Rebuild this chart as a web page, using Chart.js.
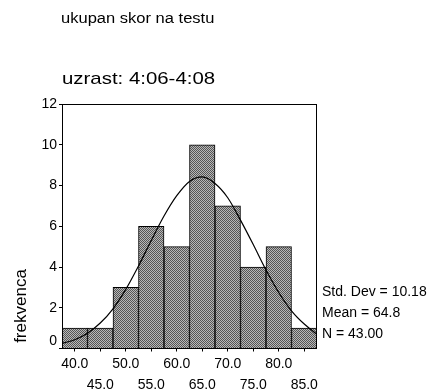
<!DOCTYPE html>
<html>
<head>
<meta charset="utf-8">
<script src="https://cdn.jsdelivr.net/npm/chart.js@4.4.0/dist/chart.umd.min.js"></script>
<style>
  html, body { margin: 0; padding: 0; background: #fff; }
  #wrap { width: 433px; height: 389px; }
</style>
</head>
<body>
<div id="wrap"><canvas id="c" width="433" height="389"></canvas></div>
<script>
// Histogram bins (centres, width 5) and their frequencies
const binCenters = [40, 45, 50, 55, 60, 65, 70, 75, 80, 85];
const counts = [1, 1, 3, 6, 5, 10, 7, 4, 5, 1];

// Fitted normal curve, sampled along the score axis
const curveX = [37.5, 40, 42.5, 45, 47.5, 50, 52.5, 55, 57.5, 60, 62.5, 65, 67.5, 70, 72.5, 75, 77.5, 80, 82.5, 85, 87.5];
const curveY = [0.25, 0.43, 0.75, 1.25, 1.95, 2.9, 4.05, 5.3, 6.5, 7.5, 8.2, 8.42, 8.1, 7.4, 6.3, 5.1, 3.85, 2.75, 1.85, 1.2, 0.7];

// Axis ticks
const xTickValues = [40, 45, 50, 55, 60, 65, 70, 75, 80, 85];
const xTickLabels = ['40.0', '45.0', '50.0', '55.0', '60.0', '65.0', '70.0', '75.0', '80.0', '85.0'];
const yTickValues = [0, 2, 4, 6, 8, 10, 12];

// Texts
const titleText = 'ukupan skor na testu';
const subtitleText = 'uzrast: 4:06-4:08';
const yAxisLabel = 'frekvenca';
const statLines = ['Std. Dev = 10.18', 'Mean = 64.8', 'N = 43.00'];

const FONT = "'Liberation Sans', Arial, sans-serif";

// Fine stipple fill for the bars
function stipple() {
  const t = document.createElement('canvas');
  t.width = 2; t.height = 2;
  const g = t.getContext('2d');
  g.fillStyle = '#b8b8b8'; g.fillRect(0, 0, 2, 2);
  g.fillStyle = '#555555'; g.fillRect(0, 0, 1, 1); g.fillRect(1, 1, 1, 1);
  return g.createPattern(t, 'repeat');
}

const decor = {
  id: 'decor',
  beforeDraw(chart) {
    const ctx = chart.ctx;
    ctx.save();
    ctx.fillStyle = '#fff';
    ctx.fillRect(0, 0, chart.width, chart.height);
    ctx.restore();
  },
  afterDatasetsDraw(chart) {
    const { ctx, chartArea: a } = chart;
    ctx.save();
    ctx.strokeStyle = '#000';
    ctx.lineWidth = 1;
    ctx.strokeRect(Math.round(a.left) + 0.5, Math.round(a.top) + 0.5,
                   Math.round(a.right - a.left) - 1, Math.round(a.bottom - a.top) - 1);
    ctx.restore();
  },
  afterDraw(chart) {
    const ctx = chart.ctx;
    const yScale = chart.scales.y;
    ctx.save();
    ctx.fillStyle = '#000';
    ctx.textBaseline = 'alphabetic';
    ctx.textAlign = 'left';

    // title lines, slightly widened
    ctx.save();
    ctx.translate(61, 23);
    ctx.scale(1.18, 1);
    ctx.font = '14px ' + FONT;
    ctx.fillText(titleText, 0, 0);
    ctx.restore();

    ctx.save();
    ctx.translate(62, 84);
    ctx.scale(1.2, 1);
    ctx.font = '17px ' + FONT;
    ctx.fillText(subtitleText, 0, 0);
    ctx.restore();

    // lowest y tick label sits a little above the axis line
    ctx.save();
    ctx.font = '14px ' + FONT;
    ctx.textAlign = 'right';
    ctx.textBaseline = 'middle';
    ctx.fillText(String(yTickValues[0]), yScale.right - 5, yScale.getPixelForValue(yTickValues[0]) - 7);
    ctx.restore();

    // y axis title
    ctx.save();
    ctx.translate(26, 306);
    ctx.rotate(-Math.PI / 2);
    ctx.textAlign = 'center';
    ctx.font = '17px ' + FONT;
    ctx.fillText(yAxisLabel, 0, 0);
    ctx.restore();

    // summary statistics
    ctx.font = '14px ' + FONT;
    const x0 = chart.chartArea.right + 5;
    statLines.forEach((s, i) => ctx.fillText(s, x0, 296 + i * 20.8));
    ctx.restore();
  }
};

new Chart(document.getElementById('c'), {
  type: 'bar',
  data: {
    datasets: [
      {
        type: 'line',
        data: curveX.map((x, i) => ({ x, y: curveY[i] })),
        borderColor: '#000',
        borderWidth: 1.2,
        pointRadius: 0,
        cubicInterpolationMode: 'monotone',
        fill: false,
        order: 0
      },
      {
        type: 'bar',
        data: binCenters.map((x, i) => ({ x, y: counts[i] })),
        backgroundColor: stipple(),
        borderColor: '#000',
        borderWidth: 1,
        barPercentage: 1,
        categoryPercentage: 1,
        order: 1
      }
    ]
  },
  options: {
    responsive: false,
    animation: false,
    layout: { padding: { top: 104, right: 116, left: 0, bottom: 0 } },
    plugins: { legend: { display: false }, tooltip: { enabled: false }, title: { display: false } },
    scales: {
      x: {
        type: 'linear',
        min: 37.5,
        max: 87.5,
        offset: false,
        border: { display: false },
        grid: { display: true, drawOnChartArea: false, drawTicks: true, tickLength: 3, tickColor: '#000', offset: false },
        afterBuildTicks(s) { s.ticks = xTickValues.map(v => ({ value: v })); },
        afterFit(s) { s.height = 40.5; },
        ticks: {
          autoSkip: false,
          maxRotation: 0,
          padding: 2,
          color: '#000',
          font: { family: FONT, size: 14, lineHeight: 1.5 },
          callback(v, i) { return i % 2 === 0 ? [xTickLabels[i], ''] : ['', xTickLabels[i]]; }
        }
      },
      y: {
        min: 0,
        max: 12,
        border: { display: false },
        grid: { display: true, drawOnChartArea: false, drawTicks: true, tickLength: 3, tickColor: '#000' },
        afterBuildTicks(s) { s.ticks = yTickValues.map(v => ({ value: v })); },
        afterFit(s) { s.width = 62; },
        ticks: {
          padding: 2,
          color: '#000',
          font: { family: FONT, size: 14 },
          // the zero label is drawn by the decor plugin
          callback(v) { return v === yTickValues[0] ? '' : String(v); }
        }
      }
    }
  },
  plugins: [decor]
});
</script>
</body>
</html>
